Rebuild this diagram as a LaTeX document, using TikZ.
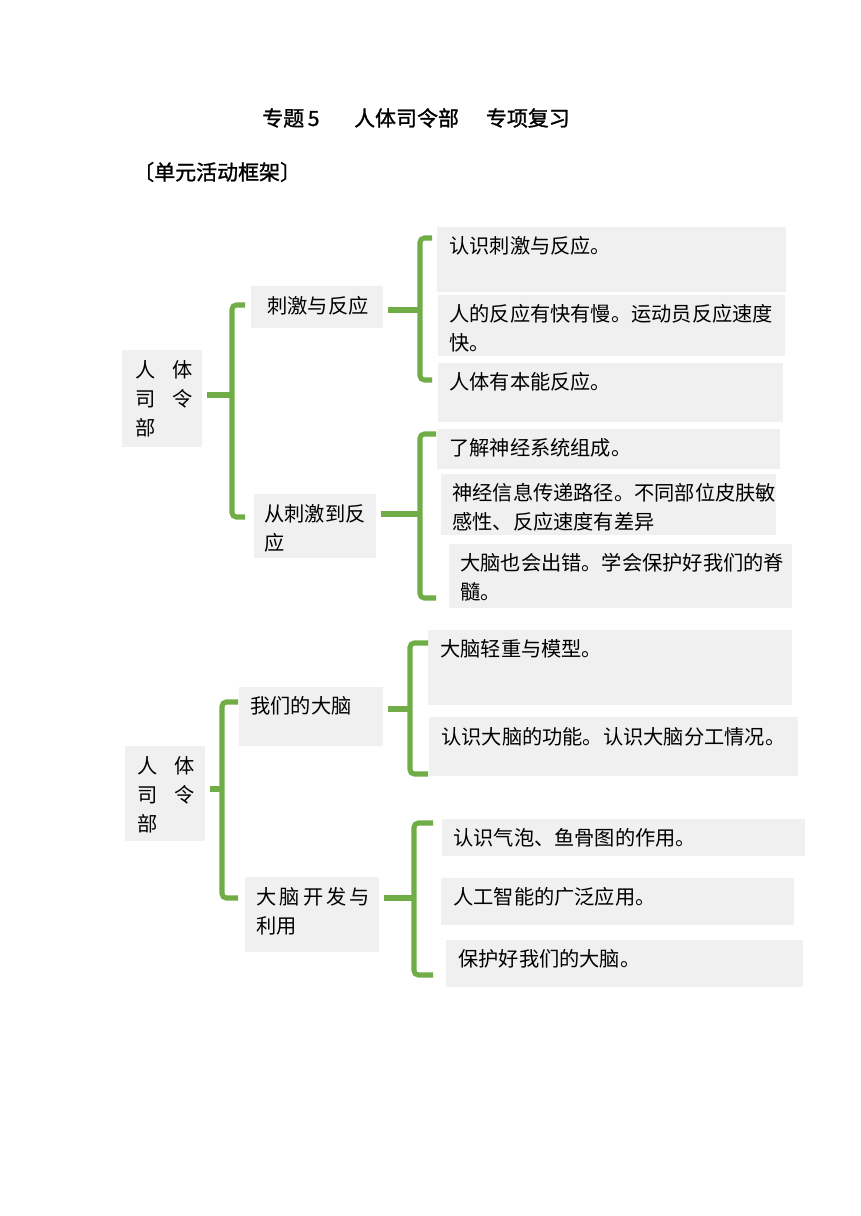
\documentclass[tikz,border=0pt]{standalone}
\usepackage{fontspec}
\setmainfont{Noto Sans CJK SC}
\newfontfamily\headfont[FakeBold=1.2]{Noto Sans CJK SC}
\definecolor{braceGreen}{RGB}{112,173,71}
\definecolor{boxGray}{RGB}{240,240,240}

\begin{document}
\begin{tikzpicture}[x=0.6918pt, y=-0.6918pt,
    box/.style={fill=boxGray, inner sep=0pt, anchor=north west},
    txt/.style={inner sep=0pt, anchor=north west, align=left, font=\fontsize{14}{20}\selectfont},
    head/.style={anchor=west, inner sep=0pt, font=\headfont\fontsize{14.5}{18}\selectfont},
    brace/.style={braceGreen, line width=3.5pt, rounded corners=3pt}]
    \useasboundingbox[fill=white] (0,0) rectangle (860,1216);
    \node[head] (title) at (262,118) {专题\hspace{2.5pt}5\hspace{24pt}人体司令部\hspace{18.7pt}专项复习};
    \node[head] (frame) at (133,172) {〔单元活动框架〕};
    % grey boxes
    \foreach \n/\xa/\ya/\xb/\yb in {root1/122/350/202/447, mid1/251/286/383/328, mid2/254/494/376/558,
        leaf1/437/227/786/292, leaf2/438/295/785/356, leaf3/438/363/783/422,
        leaf4/437/429/780/469, leaf5/441/474/776/535, leaf6/449/544/792/608,
        root2/125/746/205/841, mid3/239/687/383/746, mid4/245/877/379/952,
        leaf7/428/630/792/705, leaf8/429/717/798/776, leaf9/442/819/805/856,
        leaf10/441/878/794/925, leaf11/446/940/803/987} {
        \node[box, minimum width={(\xb-\xa)*0.6918pt}, minimum height={(\yb-\ya)*0.6918pt}] (\n) at (\xa,\ya) {};
    }
    % texts
    \foreach \n/\tx/\ty/\t in {root1/135/360/{人\hspace{11.8pt}体\\司\hspace{11.8pt}令\\部},
        mid1/267/296/{刺激与反应}, mid2/264/504/{从刺激到反\\应},
        leaf1/449/236/{认识刺激与反应。}, leaf2/449/304/{人的反应有快有慢。运动员反应速度\\快。},
        leaf3/449/372/{人体有本能反应。}, leaf4/449/438/{了解神经系统组成。},
        leaf5/452/483/{神经信息传递路径。不同部位皮肤敏\\感性、反应速度有差异},
        leaf6/460/553/{大脑也会出错。学会保护好我们的脊\\髓。},
        root2/137/756/{人\hspace{11.8pt}体\\司\hspace{11.8pt}令\\部},
        mid3/250/696/{我们的大脑},
        mid4/256/887/{大\hspace{2.2pt}脑\hspace{2.2pt}开\hspace{2.2pt}发\hspace{2.2pt}与\\利用},
        leaf7/440/639/{大脑轻重与模型。}, leaf8/441/727/{认识大脑的功能。认识大脑分工情况。},
        leaf9/453/828/{认识气泡、鱼骨图的作用。}, leaf10/453/887/{人工智能的广泛应用。},
        leaf11/458/949/{保护好我们的大脑。}} {
        \node[txt] (\n-t) at (\tx,\ty) {\t};
    }
    % green brackets
    \foreach \p/\jx/\jy/\ya/\yb/\ax in {root1/232/395/305/517/245, mid1/420/310/238/380/432,
        mid2/420/514/434/598/436, root2/222/789/702/898/238,
        mid3/410/709/643/774/428, mid4/414/898/823/975/433} {
        \coordinate (j-\p) at (\jx,\jy);
        \draw[brace, shorten <=3pt] (\p.east |- j-\p) -- (j-\p);
        \draw[brace] (\ax,\ya) -| (j-\p) |- (\ax,\yb);
    }
\end{tikzpicture}
\end{document}
